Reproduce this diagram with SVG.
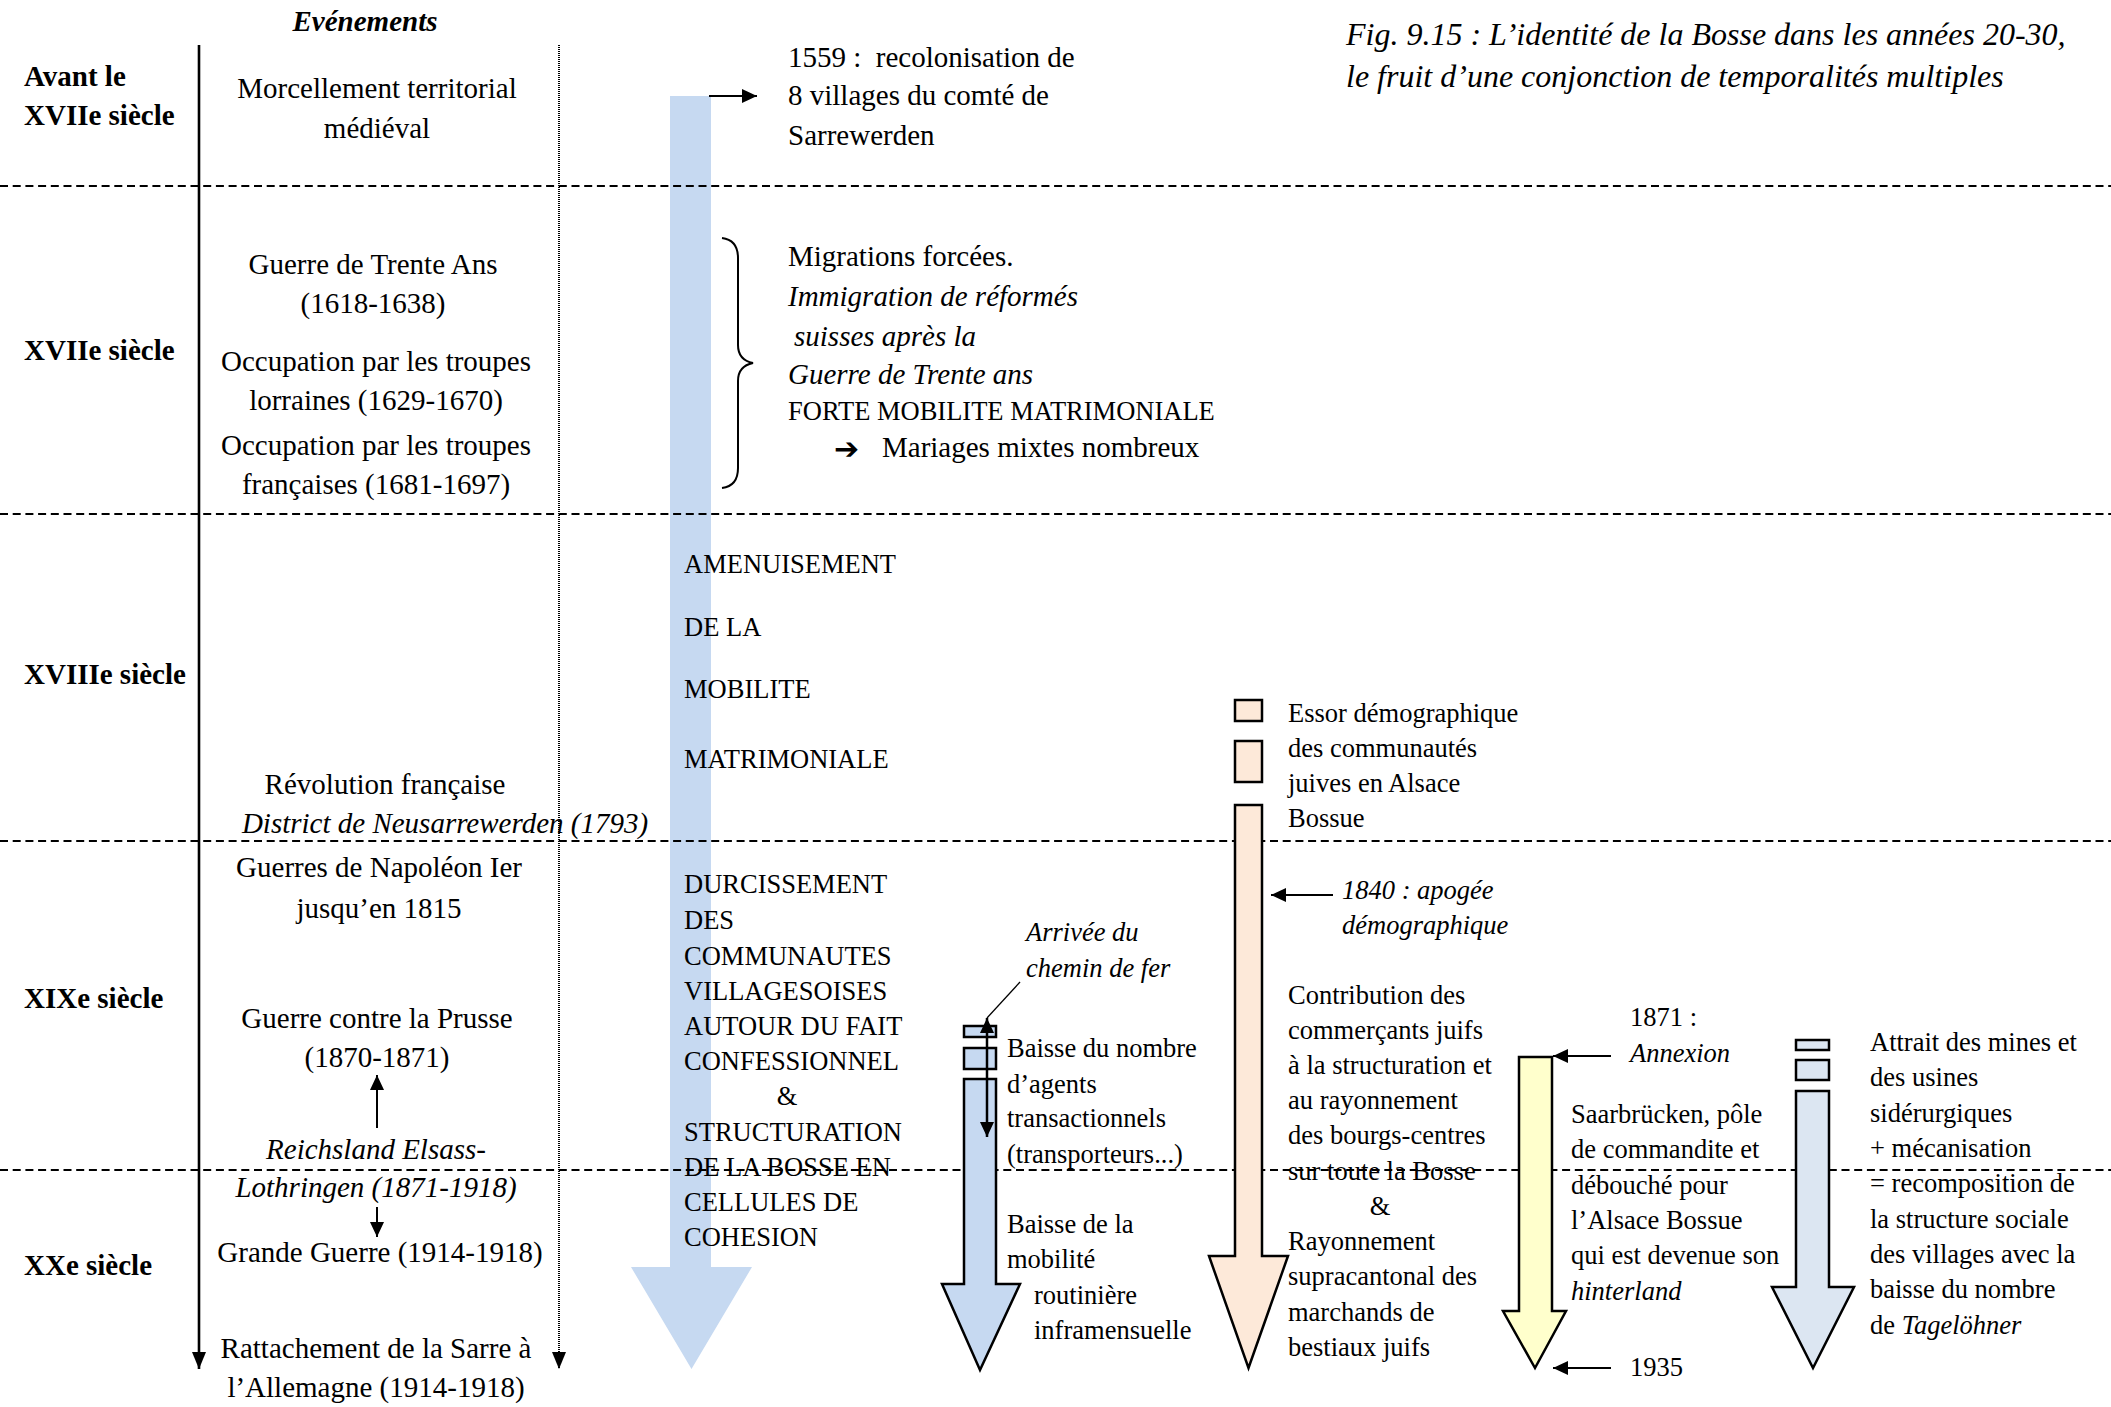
<svg xmlns="http://www.w3.org/2000/svg" width="2111" height="1407" viewBox="0 0 2111 1407">
<style>
text{font-family:"Liberation Serif","Times New Roman",serif;fill:#000}
.t{font-size:29px}
.s{font-size:26.5px}
.b{font-size:29px;font-weight:bold}
.i{font-style:italic}
.m{text-anchor:middle}
.dash{stroke:#000;stroke-width:2;stroke-dasharray:8 4.7;fill:none}
.ln{stroke:#000;stroke-width:2;fill:none}
.box{stroke:#000;stroke-width:2.5}
</style>
<defs>
<marker id="ah" markerUnits="userSpaceOnUse" markerWidth="16" markerHeight="14" refX="15" refY="7" orient="auto-start-reverse"><path d="M0,0 L15,7 L0,14 z" fill="#000"/></marker>
<marker id="ahL" markerUnits="userSpaceOnUse" markerWidth="18" markerHeight="14" refX="17" refY="7" orient="auto"><path d="M0,0 L17,7 L0,14 z" fill="#000"/></marker>
</defs>
<rect width="2111" height="1407" fill="#fff"/>

<g id="big-arrow">
<polygon points="670,96 711,96 711,1267 752,1267 691.5,1369 631,1267 670,1267" fill="#c6d9f1"/>
</g>

<g id="grid">
<line class="dash" x1="0" y1="186" x2="2111" y2="186"/>
<line class="dash" x1="0" y1="514" x2="2111" y2="514"/>
<line class="dash" x1="0" y1="841" x2="2111" y2="841"/>
<line class="dash" x1="0" y1="1170" x2="2111" y2="1170"/>
</g>

<g id="connectors">
<line x1="199" y1="45" x2="199" y2="1369" stroke="#000" stroke-width="2.6" marker-end="url(#ahL)"/>
<line x1="559" y1="45" x2="559" y2="1369" stroke="#000" stroke-width="2" stroke-dasharray="1 1" marker-end="url(#ahL)"/>
<line class="ln" x1="709" y1="96" x2="757" y2="96" marker-end="url(#ah)"/>
<line class="ln" x1="377" y1="1128" x2="377" y2="1075" marker-end="url(#ah)"/>
<line class="ln" x1="377" y1="1207" x2="377" y2="1237" marker-end="url(#ah)"/>
<line class="ln" x1="1333" y1="895" x2="1271" y2="895" marker-end="url(#ah)"/>
<line class="ln" x1="1611" y1="1056" x2="1553" y2="1056" marker-end="url(#ah)"/>
<line class="ln" x1="1611" y1="1368" x2="1553" y2="1368" marker-end="url(#ah)"/>
<path d="M722,238 Q738,240 738,258 L738,345 Q738,360 753,363 Q738,366 738,381 L738,468 Q738,486 722,488" fill="none" stroke="#000" stroke-width="2"/>
</g>

<g id="small-blue-arrow">
<rect class="box" x="964" y="1026" width="32" height="11" fill="#c6d9f1"/>
<rect class="box" x="964" y="1048" width="32" height="21" fill="#c6d9f1"/>
<polygon class="box" points="964,1079 996,1079 996,1284 1020,1284 980,1370 942,1284 964,1284" fill="#c6d9f1"/>
<line x1="987" y1="1018" x2="987" y2="1137" stroke="#000" stroke-width="2.5" marker-start="url(#ah)" marker-end="url(#ah)"/>
<line x1="987" y1="1018" x2="1020" y2="982" stroke="#000" stroke-width="1.3"/>
</g>

<g id="orange-arrow">
<rect class="box" x="1235" y="700" width="27" height="21" fill="#fde9d9"/>
<rect class="box" x="1235" y="741" width="27" height="41" fill="#fde9d9"/>
<polygon class="box" points="1235,805 1262,805 1262,1256 1288,1256 1248.5,1368 1209,1256 1235,1256" fill="#fde9d9"/>
</g>

<g id="yellow-arrow">
<polygon class="box" points="1519,1057 1552,1057 1552,1311 1566,1311 1535,1368 1503,1311 1519,1311" fill="#ffffcc"/>
</g>

<g id="grey-arrow">
<rect class="box" x="1796" y="1040" width="33" height="10" fill="#dce6f2"/>
<rect class="box" x="1796" y="1060" width="33" height="20" fill="#dce6f2"/>
<polygon class="box" points="1796,1091 1829,1091 1829,1287 1854,1287 1813,1368 1772,1287 1796,1287" fill="#dce6f2"/>
</g>

<g id="title">
<text class="i" x="1346" y="45" style="font-size:32px">Fig. 9.15 : L’identité de la Bosse dans les années 20-30,</text>
<text class="i" x="1346" y="87" style="font-size:32px">le fruit d’une conjonction de temporalités multiples</text>
</g>

<g id="centuries">
<text class="b i m" x="365" y="31">Evénements</text>
<text class="b" x="24" y="86">Avant le</text>
<text class="b" x="24" y="125">XVIIe siècle</text>
<text class="b" x="24" y="360">XVIIe siècle</text>
<text class="b" x="24" y="684">XVIIIe siècle</text>
<text class="b" x="24" y="1008">XIXe siècle</text>
<text class="b" x="24" y="1275">XXe siècle</text>
</g>

<g id="events">
<text class="t m" x="377" y="98">Morcellement territorial</text>
<text class="t m" x="377" y="138">médiéval</text>
<text class="t m" x="373" y="274">Guerre de Trente Ans</text>
<text class="t m" x="373" y="313">(1618-1638)</text>
<text class="t m" x="376" y="371">Occupation par les troupes</text>
<text class="t m" x="376" y="410">lorraines (1629-1670)</text>
<text class="t m" x="376" y="455">Occupation par les troupes</text>
<text class="t m" x="376" y="494">françaises (1681-1697)</text>
<text class="t m" x="385" y="794">Révolution française</text>
<text class="t i m" x="445" y="833">District de Neusarrewerden (1793)</text>
<text class="t m" x="379" y="877">Guerres de Napoléon Ier</text>
<text class="t m" x="379" y="918">jusqu’en 1815</text>
<text class="t m" x="377" y="1028">Guerre contre la Prusse</text>
<text class="t m" x="377" y="1067">(1870-1871)</text>
<text class="t i m" x="376" y="1159">Reichsland Elsass-</text>
<text class="t i m" x="376" y="1197">Lothringen (1871-1918)</text>
<text class="t m" x="380" y="1262">Grande Guerre (1914-1918)</text>
<text class="t m" x="376" y="1358">Rattachement de la Sarre à</text>
<text class="t m" x="376" y="1397">l’Allemagne (1914-1918)</text>
</g>

<g id="recolonisation">
<text class="t" x="788" y="67" xml:space="preserve">1559 :  recolonisation de</text>
<text class="t" x="788" y="105">8 villages du comté de</text>
<text class="t" x="788" y="145">Sarrewerden</text>
</g>

<g id="migrations">
<text class="t" x="788" y="266">Migrations forcées.</text>
<text class="t i" x="788" y="306">Immigration de réformés</text>
<text class="t i" x="794" y="346">suisses après la</text>
<text class="t i" x="788" y="384">Guerre de Trente ans</text>
<text class="s" x="788" y="420">FORTE MOBILITE MATRIMONIALE</text>
<text x="834" y="459" style="font-family:'DejaVu Sans',sans-serif;font-size:30px;font-weight:bold">➔</text>
<text class="t" x="882" y="457">Mariages mixtes nombreux</text>
</g>

<g id="big-arrow-text">
<text class="s" x="684" y="573">AMENUISEMENT</text>
<text class="s" x="684" y="636">DE LA</text>
<text class="s" x="684" y="698">MOBILITE</text>
<text class="s" x="684" y="768">MATRIMONIALE</text>
<text class="s" x="684" y="893">DURCISSEMENT</text>
<text class="s" x="684" y="929">DES</text>
<text class="s" x="684" y="965">COMMUNAUTES</text>
<text class="s" x="684" y="1000">VILLAGESOISES</text>
<text class="s" x="684" y="1035">AUTOUR DU FAIT</text>
<text class="s" x="684" y="1070">CONFESSIONNEL</text>
<text class="s m" x="787" y="1105">&amp;</text>
<text class="s" x="684" y="1141">STRUCTURATION</text>
<text class="s" x="684" y="1176">DE LA BOSSE EN</text>
<text class="s" x="684" y="1211">CELLULES DE</text>
<text class="s" x="684" y="1246">COHESION</text>
</g>

<g id="small-blue-text">
<text class="s i" x="1026" y="941">Arrivée du</text>
<text class="s i" x="1026" y="977">chemin de fer</text>
<text class="s" x="1007" y="1057">Baisse du nombre</text>
<text class="s" x="1007" y="1093">d’agents</text>
<text class="s" x="1007" y="1127">transactionnels</text>
<text class="s" x="1007" y="1163">(transporteurs...)</text>
<text class="s" x="1007" y="1233">Baisse de la</text>
<text class="s" x="1007" y="1268">mobilité</text>
<text class="s" x="1034" y="1304">routinière</text>
<text class="s" x="1034" y="1339">inframensuelle</text>
</g>

<g id="orange-text">
<text class="s" x="1288" y="722">Essor démographique</text>
<text class="s" x="1288" y="757">des communautés</text>
<text class="s" x="1288" y="792">juives en Alsace</text>
<text class="s" x="1288" y="827">Bossue</text>
<text class="s i" x="1342" y="899">1840 : apogée</text>
<text class="s i" x="1342" y="934">démographique</text>
<text class="s" x="1288" y="1004">Contribution des</text>
<text class="s" x="1288" y="1039">commerçants juifs</text>
<text class="s" x="1288" y="1074">à la structuration et</text>
<text class="s" x="1288" y="1109">au rayonnement</text>
<text class="s" x="1288" y="1144">des bourgs-centres</text>
<text class="s" x="1288" y="1180">sur toute la Bosse</text>
<text class="s m" x="1380" y="1215">&amp;</text>
<text class="s" x="1288" y="1250">Rayonnement</text>
<text class="s" x="1288" y="1285">supracantonal des</text>
<text class="s" x="1288" y="1321">marchands de</text>
<text class="s" x="1288" y="1356">bestiaux juifs</text>
</g>

<g id="yellow-text">
<text class="s" x="1630" y="1026">1871 :</text>
<text class="s i" x="1630" y="1062">Annexion</text>
<text class="s" x="1630" y="1376">1935</text>
<text class="s" x="1571" y="1123">Saarbrücken, pôle</text>
<text class="s" x="1571" y="1158">de commandite et</text>
<text class="s" x="1571" y="1194">débouché pour</text>
<text class="s" x="1571" y="1229">l’Alsace Bossue</text>
<text class="s" x="1571" y="1264">qui est devenue son</text>
<text class="s i" x="1571" y="1300">hinterland</text>
</g>

<g id="grey-text">
<text class="s" x="1870" y="1051">Attrait des mines et</text>
<text class="s" x="1870" y="1086">des usines</text>
<text class="s" x="1870" y="1122">sidérurgiques</text>
<text class="s" x="1870" y="1157">+ mécanisation</text>
<text class="s" x="1870" y="1192">= recomposition de</text>
<text class="s" x="1870" y="1228">la structure sociale</text>
<text class="s" x="1870" y="1263">des villages avec la</text>
<text class="s" x="1870" y="1298">baisse du nombre</text>
<text class="s" x="1870" y="1334">de <tspan class="i">Tagelöhner</tspan></text>
</g>
</svg>
